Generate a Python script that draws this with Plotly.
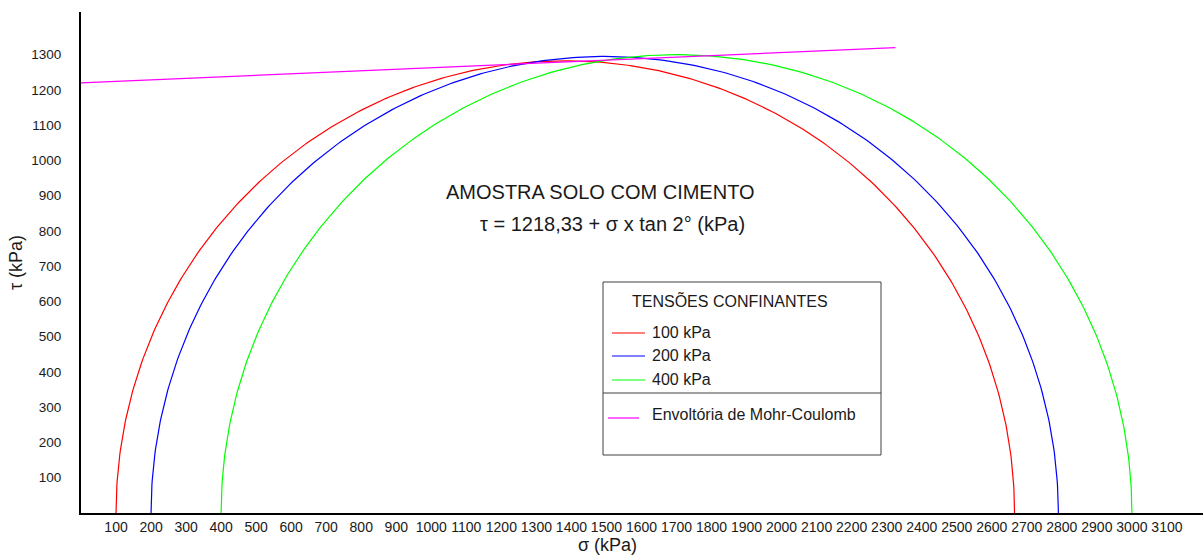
import numpy as np
import plotly.graph_objects as go

# Círculos de Mohr: tensão confinante (sigma3) e tensão principal maior (sigma1), kPa
sigma3 = [100, 200, 400]
sigma1 = [2665, 2790, 3000]
nomes = ["100 kPa", "200 kPa", "400 kPa"]
cores = ["#ff0000", "#0000ff", "#00ff00"]

# envoltória de Mohr-Coulomb (extremos)
env_sigma = [0, 2325]
env_tau = [1220, 1320]
env_nome = "Envoltória de Mohr-Coulomb"
env_cor = "#ff00ff"

x_ticks = [100, 200, 300, 400, 500, 600, 700, 800, 900, 1000, 1100, 1200, 1300,
           1400, 1500, 1600, 1700, 1800, 1900, 2000, 2100, 2200, 2300, 2400,
           2500, 2600, 2700, 2800, 2900, 3000, 3100]
y_ticks = [100, 200, 300, 400, 500, 600, 700, 800, 900, 1000, 1100, 1200, 1300]

titulo = "AMOSTRA SOLO COM CIMENTO"
equacao = "τ = 1218,33 + σ x tan 2° (kPa)"
titulo_legenda = "TENSÕES CONFINANTES"

FONTE = "Liberation Sans, Arial, sans-serif"
W, H = 1203, 555
L, R, T, B = 81, 0, 12, 42


def px(x, y):
    """pixel da janela -> coordenadas paper"""
    return (x - L) / (W - L - R), (H - B - y) / (H - T - B)


fig = go.Figure()

t = np.linspace(0, np.pi, 361)
for s3, s1, nome, cor in zip(sigma3, sigma1, nomes, cores):
    c = (s1 + s3) / 2
    r = (s1 - s3) / 2
    fig.add_trace(go.Scatter(x=c - r * np.cos(t), y=r * np.sin(t), mode="lines",
                             name=nome, line=dict(color=cor, width=1.2)))

fig.add_trace(go.Scatter(x=env_sigma, y=env_tau, mode="lines", name=env_nome,
                         line=dict(color=env_cor, width=1.2)))

# legenda desenhada à mão (caixa com divisória)
shapes = []
x0, y0 = px(603, 282)
x1, y1 = px(881, 455)
shapes.append(dict(type="rect", xref="paper", yref="paper", x0=x0, y0=y0, x1=x1, y1=y1,
                   line=dict(color="#404040", width=1), fillcolor="white", layer="above"))
dx0, dy = px(603, 393)
dx1, _ = px(881, 393)
shapes.append(dict(type="line", xref="paper", yref="paper", x0=dx0, x1=dx1, y0=dy, y1=dy,
                   line=dict(color="#404040", width=1), layer="above"))

annotations = []
tx, ty = px(730, 300)
annotations.append(dict(text=titulo_legenda, x=tx, y=ty, xref="paper", yref="paper",
                        showarrow=False, font=dict(size=16), xanchor="center", yanchor="middle"))
for nome, cor, row in zip(nomes, cores, [333, 356, 380]):
    a, yy = px(612, row)
    b, _ = px(645, row)
    shapes.append(dict(type="line", xref="paper", yref="paper", x0=a, x1=b, y0=yy, y1=yy,
                       line=dict(color=cor, width=1.2), layer="above"))
    lx, ly = px(650, row - 1)
    annotations.append(dict(text=nome, x=lx, y=ly, xref="paper", yref="paper", showarrow=False,
                            font=dict(size=16), xanchor="left", yanchor="middle"))
a, yy = px(608, 418)
b, _ = px(639, 418)
shapes.append(dict(type="line", xref="paper", yref="paper", x0=a, x1=b, y0=yy, y1=yy,
                   line=dict(color=env_cor, width=1.2), layer="above"))
lx, ly = px(650, 414)
annotations.append(dict(text=env_nome, x=lx, y=ly, xref="paper", yref="paper", showarrow=False,
                        font=dict(size=16), xanchor="left", yanchor="middle"))

# títulos
for txt, cx, cy in [(titulo, 600, 192), (equacao, 612, 224)]:
    ax, ay = px(cx, cy)
    annotations.append(dict(text=txt, x=ax, y=ay, xref="paper", yref="paper", showarrow=False,
                            font=dict(size=20), xanchor="center", yanchor="middle"))
ax, ay = px(607, 545)
annotations.append(dict(text="σ (kPa)", x=ax, y=ay, xref="paper", yref="paper", showarrow=False,
                        font=dict(size=18), xanchor="center", yanchor="middle"))

fig.update_layout(
    width=W, height=H, autosize=False,
    margin=dict(l=L, r=R, t=T, b=B, pad=0),
    paper_bgcolor="white", plot_bgcolor="white",
    font=dict(family=FONTE, size=14, color="#1a1a1a"),
    showlegend=False,
    shapes=shapes,
    annotations=annotations,
    xaxis=dict(range=[0, 3203], tickvals=x_ticks, tickangle=0, showgrid=False,
               zeroline=False, showline=True, linecolor="black", linewidth=2,
               ticks="", tickfont=dict(size=14)),
    yaxis=dict(range=[0, 1421], tickvals=y_ticks, showgrid=False, zeroline=False,
               showline=True, linecolor="black", linewidth=2, ticks="",
               ticklabelstandoff=15, tickfont=dict(size=13.5),
               title=dict(text="τ (kPa)", font=dict(size=18), standoff=4)),
)

fig.write_html("out.html", config={"displayModeBar": False},
               post_script="document.body.style.margin='0';")
